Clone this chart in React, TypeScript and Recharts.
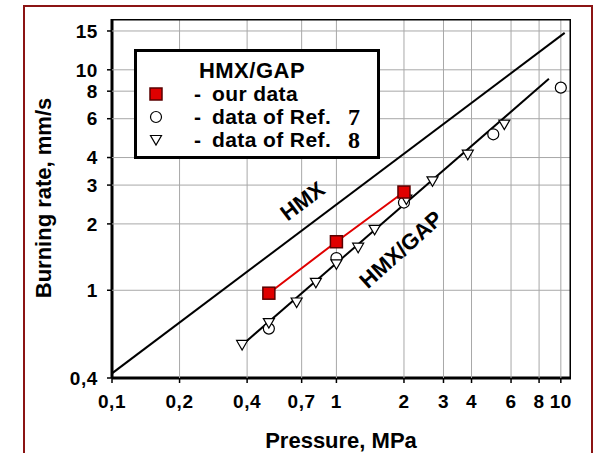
import React from 'react';
import {
  ScatterChart, Scatter, XAxis, YAxis, ReferenceDot, Legend, Label
} from 'recharts';

const X_TICKS = [0.1, 0.2, 0.4, 0.7, 1, 2, 3, 4, 6, 8, 10];
const Y_TICKS = [0.4, 1, 2, 3, 4, 6, 8, 10, 15];
const X_DOMAIN = [0.1, 11.1];
const Y_DOMAIN = [0.4, 17];

// fitted lines (end points)
const hmxP = [0.1, 10.4];
const hmxR = [0.42, 14.7];
const gapP = [0.38, 8.85];
const gapR = [0.565, 9.1];

// HMX/GAP - our data
const ourP = [0.5, 1, 2];
const ourR = [0.97, 1.66, 2.79];
// data of Ref. 7
const ref7P = [0.5, 1, 2, 5, 10];
const ref7R = [0.67, 1.4, 2.5, 5.1, 8.3];
// data of Ref. 8
const ref8P = [0.38, 0.5, 0.665, 0.81, 1.0, 1.25, 1.48, 2.05, 2.68, 3.85, 5.6];
const ref8R = [0.565, 0.71, 0.88, 1.08, 1.31, 1.56, 1.88, 2.58, 3.12, 4.12, 5.64];

const LEGEND_TITLE = 'HMX/GAP';
const LEGEND_TEXT = ['our data', 'data of Ref.', 'data of Ref.'];
const LEGEND_REF = ['', '7', '8'];

const FONT = '"Liberation Sans", Arial, Helvetica, sans-serif';

const pts = (p: number[], r: number[]) => p.map((v, i) => ({ p: v, r: r[i] }));
const fmt = (v: number) => String(v).replace('.', ',');

const Square = (props: any) => {
  const { cx, cy } = props;
  return <rect x={cx - 6} y={cy - 6} width={12} height={12} fill="#e00000" stroke="#5a0000" strokeWidth={1.5} />;
};
const Circle = (props: any) => {
  const { cx, cy } = props;
  return <circle cx={cx} cy={cy} r={5.5} fill="#fff" stroke="#000" strokeWidth={1.2} />;
};
const Tri = (props: any) => {
  const { cx, cy } = props;
  return (
    <polygon
      points={`${cx - 5.5},${cy - 4.5} ${cx + 5.5},${cy - 4.5} ${cx},${cy + 5}`}
      fill="#fff" stroke="#000" strokeWidth={1.2}
    />
  );
};
const Nothing = () => <g />;

const rotatedText = (value: string, angle: number, size: number) => (props: any) => {
  const { cx, cy } = props;
  return (
    <text
      x={cx} y={cy} textAnchor="middle" dominantBaseline="central"
      transform={`rotate(${angle} ${cx} ${cy})`}
      fontFamily={FONT} fontWeight="bold" fontSize={size} fill="#000"
    >
      {value}
    </text>
  );
};

const LegendBox = () => {
  const markers = [Square, Circle, Tri];
  return (
    <svg width={247} height={112} style={{ display: 'block' }}>
      <rect x={1.5} y={1.5} width={243} height={107} fill="#fff" stroke="#000" strokeWidth={3} />
      <text x={118} y={29} textAnchor="middle" fontFamily={FONT} fontWeight="bold" fontSize={22} letterSpacing={0.5}>
        {LEGEND_TITLE}
      </text>
      {LEGEND_TEXT.map((t, i) => {
        const M = markers[i];
        const base = 52 + i * 23;
        return (
          <g key={i}>
            <M cx={22} cy={base - 7} />
            <text x={60} y={base} fontFamily={FONT} fontWeight="bold" fontSize={21}>-</text>
            <text x={78} y={base} fontFamily={FONT} fontWeight="bold" fontSize={21} letterSpacing={0.4}>{t}</text>
            {LEGEND_REF[i] && (
              <text x={220} y={base + 1} textAnchor="middle" fontFamily='"Liberation Serif", "Times New Roman", serif' fontWeight="bold" fontSize={24}>
                {LEGEND_REF[i]}
              </text>
            )}
          </g>
        );
      })}
    </svg>
  );
};

const tickStyle = { fontFamily: FONT, fontWeight: 'bold', fontSize: 19, fill: '#000', letterSpacing: 0.6 } as any;
const gridLine = { stroke: '#a8a8a8', strokeWidth: 1 };

// grid lines, one scatter segment per tick
const gridX = X_TICKS.slice(1).map((t) => pts([t, t], Y_DOMAIN));
const gridY = Y_TICKS.slice(1).map((t) => pts(X_DOMAIN, [t, t]));
// top and right edges of the plot frame
const frame = pts([X_DOMAIN[0], X_DOMAIN[1], X_DOMAIN[1]], [Y_DOMAIN[1], Y_DOMAIN[1], Y_DOMAIN[0]]);

export default function App() {
  return (
    <div style={{ position: 'absolute', left: 0, top: 0, width: 595, height: 453, overflow: 'hidden', background: '#fff' }}>
      <div style={{ position: 'absolute', left: 23, top: 5, width: 566, height: 470, border: '2px solid #8b1414' }} />
      <ScatterChart width={595} height={453} margin={{ top: 19, right: 24, left: 52, bottom: 0 }}>
        <XAxis
          type="number" dataKey="p" scale="log" domain={X_DOMAIN} ticks={X_TICKS}
          allowDataOverflow height={75} tickFormatter={fmt} tick={tickStyle}
          tickSize={5} tickMargin={12} interval={0}
          axisLine={{ stroke: '#000', strokeWidth: 3 }} tickLine={{ stroke: '#000', strokeWidth: 1.5 }}
        >
          <Label
            content={() => (
              <text x={341} y={448} textAnchor="middle" fontFamily={FONT} fontWeight="bold" fontSize={22} fill="#000">
                Pressure, MPa
              </text>
            )}
          />
        </XAxis>
        <YAxis
          type="number" dataKey="r" scale="log" domain={Y_DOMAIN} ticks={Y_TICKS}
          allowDataOverflow width={60} tickFormatter={fmt} tick={tickStyle}
          tickSize={5} tickMargin={9} interval={0}
          axisLine={{ stroke: '#000', strokeWidth: 3 }} tickLine={{ stroke: '#000', strokeWidth: 1.5 }}
        >
          <Label
            content={() => (
              <text x={51} y={198} textAnchor="middle" transform="rotate(-90 51 198)" fontFamily={FONT} fontWeight="bold" fontSize={22} fill="#000">
                Burning rate, mm/s
              </text>
            )}
          />
        </YAxis>
        {gridX.map((d, i) => (
          <Scatter key={`gx${i}`} data={d} line={gridLine} shape={Nothing} isAnimationActive={false} />
        ))}
        {gridY.map((d, i) => (
          <Scatter key={`gy${i}`} data={d} line={gridLine} shape={Nothing} isAnimationActive={false} />
        ))}
        <Scatter data={frame} line={{ stroke: '#000', strokeWidth: 3 }} shape={Nothing} isAnimationActive={false} />
        <Scatter data={pts(hmxP, hmxR)} line={{ stroke: '#000', strokeWidth: 2 }} shape={Nothing} isAnimationActive={false} />
        <Scatter data={pts(gapP, gapR)} line={{ stroke: '#000', strokeWidth: 2 }} shape={Nothing} isAnimationActive={false} />
        <Scatter data={pts(ourP, ourR)} line={{ stroke: '#e00000', strokeWidth: 2 }} shape={Nothing} isAnimationActive={false} />
        <Scatter data={pts(ref7P, ref7R)} shape={Circle} isAnimationActive={false} />
        <Scatter data={pts(ref8P, ref8R)} shape={Tri} isAnimationActive={false} />
        <Scatter data={pts(ourP, ourR)} shape={Square} isAnimationActive={false} />
        <ReferenceDot x={0.706} y={2.54} shape={rotatedText('HMX', -37, 22)} />
        <ReferenceDot x={1.94} y={1.53} shape={rotatedText('HMX/GAP', -42, 22)} />
        <Legend
          verticalAlign="middle" align="center" layout="horizontal"
          wrapperStyle={{ position: 'absolute', left: 134, top: 49, width: 247, height: 112 }}
          content={() => <LegendBox />}
        />
      </ScatterChart>
    </div>
  );
}
